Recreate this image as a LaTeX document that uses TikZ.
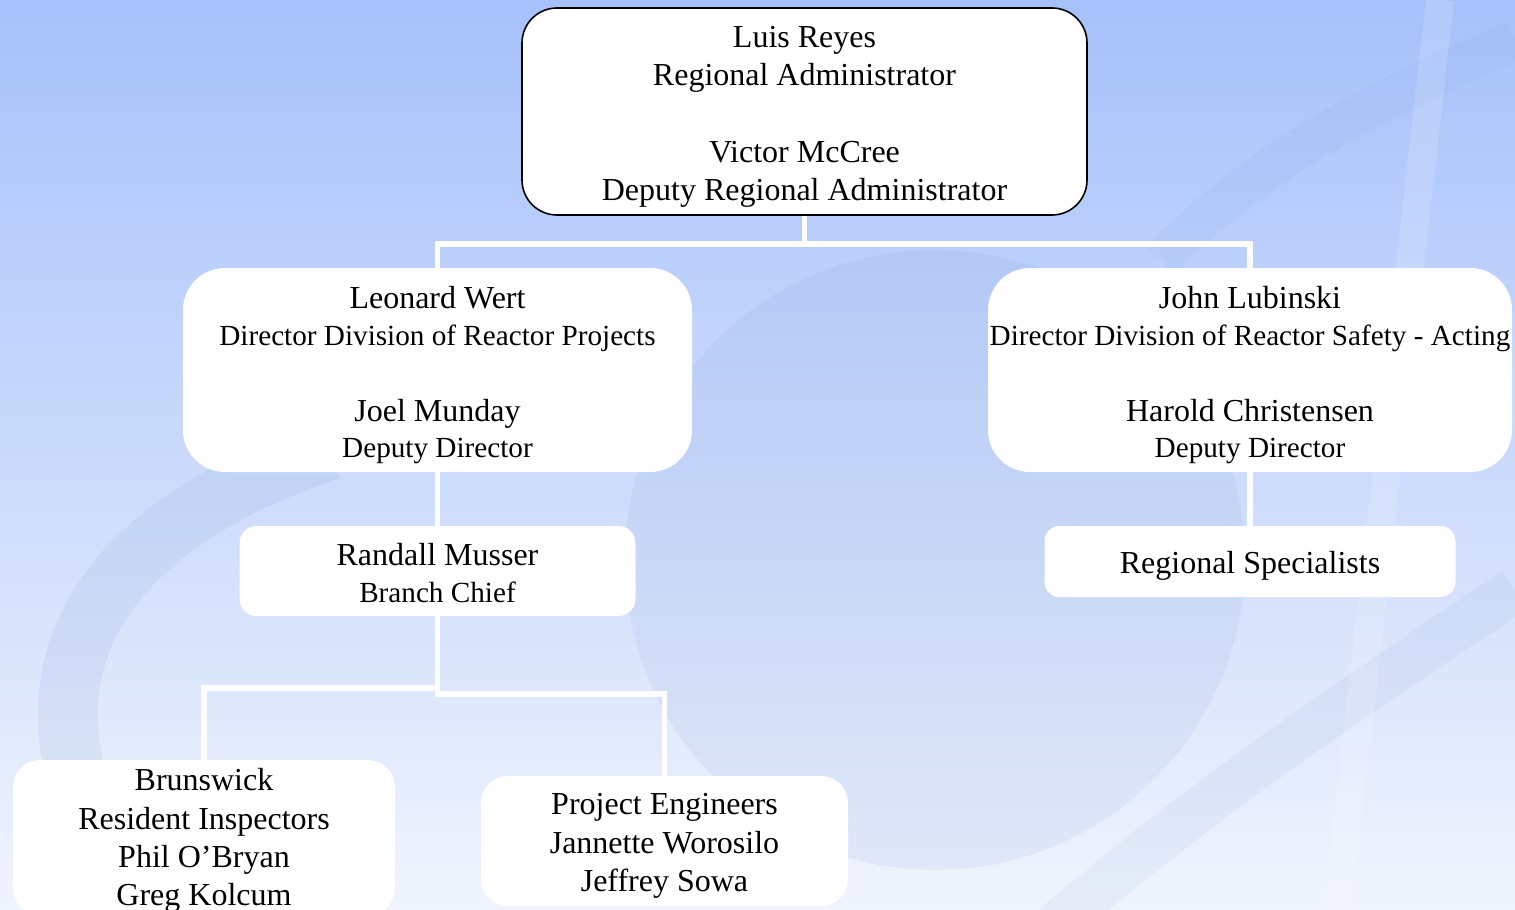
\documentclass[tikz,border=0pt]{standalone}
\usepackage{fontspec}
\setmainfont{Liberation Serif}
\definecolor{bgtop}{RGB}{166,193,250}
\definecolor{bgmid}{RGB}{194,211,247}
\definecolor{bgbot}{RGB}{240,244,253}
\definecolor{deco}{RGB}{110,140,200}
\newcommand\tsz{\fontsize{29.2}{36.5}\selectfont}
\begin{document}
\begin{tikzpicture}[x=1pt,y=-1pt,
  orgbox/.style={fill=white, inner sep=0pt, draw=none},
  link/.style={draw=white, line width=5.5pt, line join=miter},
  lbl/.style={align=center, inner sep=0pt, font=\fontsize{32}{36.5}\selectfont},
  lblwide/.style={align=center, inner sep=0pt, font=\fontsize{32}{38.3}\selectfont},
  band/.style={draw=deco, opacity=0.10}]
\useasboundingbox (0,0) rectangle (1515,910);
\clip (0,0) rectangle (1515,910);
% background
\shade[top color=bgtop, middle color=bgmid, bottom color=bgbot] (0,0) rectangle (1515,910);
\fill[deco, opacity=0.09] (935,560) circle (310);
\draw[band, line width=60pt] (330,450) .. controls (60,540) and (-10,720) .. (160,930);
\draw[band, opacity=0.06, line width=40pt] (1160,260) .. controls (1250,170) and (1350,110) .. (1515,40);
\draw[band, opacity=0.08, line width=45pt] (1515,590) .. controls (1350,700) and (1200,800) .. (1050,930);
\draw[draw=white, opacity=0.15, line width=28pt] (1440,0) -- (1335,930);
% boxes
\node[orgbox, draw=black, line width=1.6pt, rounded corners=35pt, minimum width=565pt, minimum height=207pt] (top) at (804.5,111.5) {};
\node[orgbox, rounded corners=42pt, minimum width=509pt, minimum height=204pt] (wert) at (437.5,370) {};
\node[orgbox, rounded corners=42pt, minimum width=524pt, minimum height=204pt] (lub) at (1250,370) {};
\node[orgbox, rounded corners=17pt, minimum width=396pt, minimum height=90pt] (mus) at (437.5,571) {};
\node[orgbox, rounded corners=15pt, minimum width=411pt, minimum height=71pt] (spec) at (1250,561.5) {};
\node[orgbox, rounded corners=27pt, minimum width=382pt, minimum height=155pt] (brun) at (204,837.5) {};
\node[orgbox, rounded corners=27pt, minimum width=367pt, minimum height=130pt] (proj) at (664.5,841) {};
% connectors
\draw[link] (top.south) -- ++(0,28) coordinate (j1) -| (wert.north);
\draw[link] (j1) -| (lub.north);
\draw[link] (wert.south) -- (mus.north);
\draw[link] (lub.south) -- (spec.north);
\draw[link] (mus.south) -- ++(0,72) -| (brun.north);
\draw[link] (mus.south) -- ++(0,78) -| (proj.north);
% texts
\node[lblwide] (topT) at (804.5,117) {Luis Reyes\\Regional Administrator\\[38.7pt]Victor McCree\\Deputy Regional Administrator};
\node[lbl] (wertT) at (437.5,375.2) {Leonard Wert\\{\tsz Director Division of Reactor Projects}\\[39.3pt]Joel Munday\\{\tsz Deputy Director}};
\node[lbl] (lubT) at (1250,375.2) {John Lubinski\\{\tsz Director Division of Reactor Safety - Acting}\\[39.3pt]Harold Christensen\\{\tsz Deputy Director}};
\node[lbl] (musT) at (437.5,573) {Randall Musser\\{\tsz Branch Chief}};
\node[lbl] (specT) at (1250,566) {Regional Specialists};
\node[lblwide] (brunT) at (204,840.5) {Brunswick\\Resident Inspectors\\Phil O’Bryan\\Greg Kolcum};
\node[lblwide] (projT) at (664.5,846) {Project Engineers\\Jannette Worosilo\\Jeffrey Sowa};
\end{tikzpicture}
\end{document}
